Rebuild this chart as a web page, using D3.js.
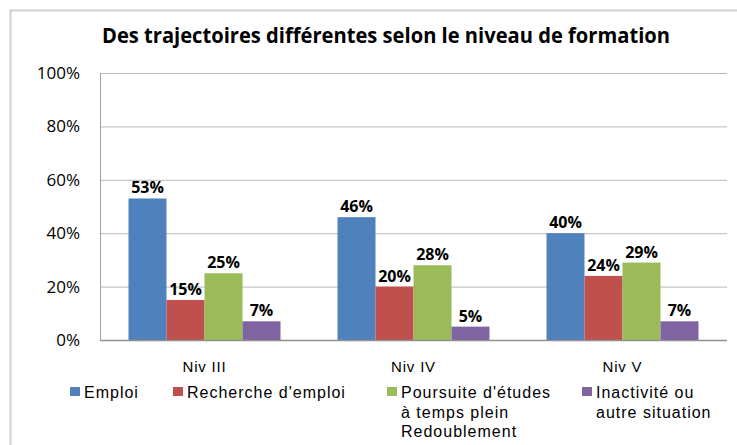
<!DOCTYPE html>
<html>
<head>
<meta charset="utf-8">
<script src="https://cdn.jsdelivr.net/npm/d3@7"></script>
<style>
  body { margin: 0; background: #fff; }
  svg { display: block; }
</style>
</head>
<body>
<script>
// data
const categories = ["Niv III", "Niv IV", "Niv V"];
const seriesKeys = ["emploi", "recherche", "poursuite", "inactivite"];
const seriesLabels = [
  ["Emploi"],
  ["Recherche d'emploi"],
  ["Poursuite d'études", "à temps plein", "Redoublement"],
  ["Inactivité ou", "autre situation"]
];
const seriesColors = ["#4F81BD", "#C0504D", "#9BBB59", "#8064A2"];
const emploi = [53, 46, 40];
const recherche = [15, 20, 24];
const poursuite = [25, 28, 29];
const inactivite = [7, 5, 7];
const yTicks = [0, 20, 40, 60, 80, 100];
const title = "Des trajectoires différentes selon le niveau de formation";

const values = { emploi, recherche, poursuite, inactivite };

// set the dimensions of the chart
const width = 737, height = 445;
const plot = { left: 100, right: 727, top: 73, bottom: 340 };

const svg = d3.select("body").append("svg")
    .attr("width", width)
    .attr("height", height);

// chart frame
svg.append("rect")
    .attr("x", 10.5).attr("y", 10.5)
    .attr("width", 740).attr("height", 450)
    .style("fill", "#fff")
    .style("stroke", "#d0d0d0")
    .style("stroke-width", 2);

// title
svg.append("text")
    .attr("x", 102).attr("y", 43)
    .attr("textLength", 568)
    .attr("lengthAdjust", "spacingAndGlyphs")
    .style("font-family", "'Open Sans', sans-serif")
    .style("font-weight", "bold")
    .style("font-size", "21px")
    .text(title);

const x0 = d3.scaleBand()
    .domain(categories)
    .range([plot.left, plot.right])
    .padding(0);
const x1 = d3.scaleBand()
    .domain(seriesKeys)
    .range([0, x0.bandwidth()])
    .paddingInner(0)
    .paddingOuter(0.75);
const y = d3.scaleLinear()
    .domain([0, 100])
    .range([plot.bottom, plot.top]);

// gridlines + y labels via axis
const yAxis = svg.append("g")
    .attr("transform", "translate(" + plot.left + ",0)")
    .call(d3.axisLeft(y).tickValues(yTicks).tickSize(0).tickPadding(20).tickFormat(d => d + "%"));
yAxis.select(".domain").remove();
yAxis.selectAll("text")
    .style("font-family", "'Open Sans', sans-serif")
    .style("font-size", "17px")
    .style("fill", "#000");
yAxis.selectAll(".tick line").clone()
    .attr("x2", plot.right - plot.left)
    .style("stroke", "#b8b8b8")
    .style("stroke-width", 1);

// vertical axis line
svg.append("line")
    .attr("x1", plot.left + 0.5).attr("x2", plot.left + 0.5)
    .attr("y1", plot.top).attr("y2", plot.bottom)
    .style("stroke", "#a0a0a0");

// bars
const group = svg.selectAll(".group")
    .data(categories)
    .enter().append("g")
    .attr("class", "group")
    .attr("transform", d => "translate(" + x0(d) + ",0)");

group.selectAll("rect")
    .data((d, i) => seriesKeys.map((k, j) => ({ key: k, value: values[k][i], color: seriesColors[j] })))
    .enter().append("rect")
    .attr("x", d => x1(d.key))
    .attr("y", d => y(d.value))
    .attr("width", x1.bandwidth())
    .attr("height", d => y(0) - y(d.value))
    .style("fill", d => d.color);

// data labels
group.selectAll(".lbl")
    .data((d, i) => seriesKeys.map(k => ({ key: k, value: values[k][i] })))
    .enter().append("text")
    .attr("class", "lbl")
    .attr("x", d => x1(d.key) + x1.bandwidth() / 2)
    .attr("y", d => y(d.value) - 5)
    .style("text-anchor", "middle")
    .style("font-family", "'Open Sans', sans-serif")
    .style("font-weight", "bold")
    .style("font-size", "16px")
    .text(d => d.value + "%");

// baseline
svg.append("line")
    .attr("x1", plot.left).attr("x2", plot.right)
    .attr("y1", plot.bottom + 0.5).attr("y2", plot.bottom + 0.5)
    .style("stroke", "#909090")
    .style("stroke-width", 1.5);

// category labels
svg.append("g").selectAll("text")
    .data(categories)
    .enter().append("text")
    .attr("x", d => x0(d) + x0.bandwidth() / 2)
    .attr("y", 372)
    .style("text-anchor", "middle")
    .style("font-family", "'Liberation Sans', Arial, sans-serif")
    .style("font-size", "15px")
    .style("letter-spacing", "0.8px")
    .text(d => d);

// legend
const legendX = [70, 173, 387, 582];
const legend = svg.selectAll(".legend")
    .data(seriesLabels)
    .enter().append("g")
    .attr("class", "legend")
    .attr("transform", (d, i) => "translate(" + legendX[i] + ",387)");
legend.append("rect")
    .attr("width", 10).attr("height", 9)
    .style("fill", (d, i) => seriesColors[i]);
legend.append("text")
    .attr("x", 14)
    .attr("y", 11)
    .style("font-family", "'Liberation Sans', Arial, sans-serif")
    .style("font-size", "16px")
    .style("letter-spacing", "1px")
    .selectAll("tspan")
    .data(d => d)
    .enter().append("tspan")
    .attr("x", 14)
    .attr("dy", (d, i) => i === 0 ? 0 : 19.5)
    .text(d => d);
</script>
</body>
</html>
